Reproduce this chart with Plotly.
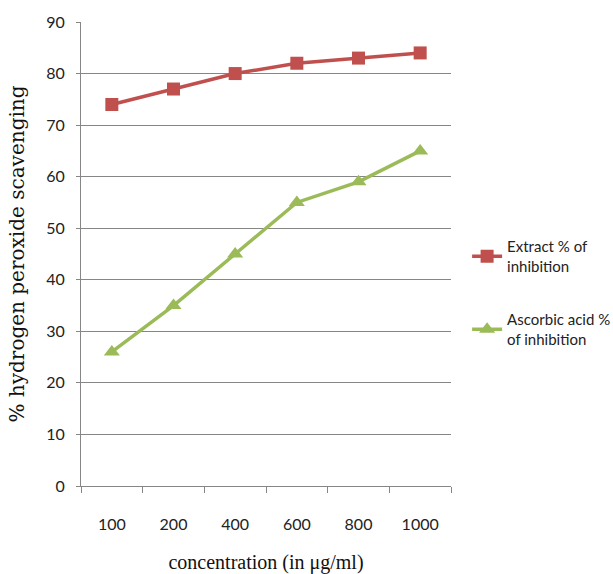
import plotly.graph_objects as go

categories = ["100", "200", "400", "600", "800", "1000"]
extract = [74, 77, 80, 82, 83, 84]
ascorbic = [26, 35, 45, 55, 59, 65]
series_names = ["Extract % of<br>inhibition", "Ascorbic acid %<br>of inhibition"]
y_ticks = [0, 10, 20, 30, 40, 50, 60, 70, 80, 90]

narrow = "Lato, Liberation Sans Narrow, sans-serif"
serif = "Liberation Serif, Times New Roman, serif"
wide_serif = "DejaVu Serif, serif"

fig = go.Figure()
fig.add_trace(go.Scatter(
    x=categories, y=extract, name=series_names[0], mode="lines+markers",
    line=dict(color="#C0504D", width=3.5),
    marker=dict(symbol="square", size=13, color="#C0504D"),
    legendgroup="a"))
fig.add_trace(go.Scatter(
    x=categories, y=ascorbic, name=series_names[1], mode="lines+markers",
    line=dict(color="#9BBB59", width=3.5),
    marker=dict(symbol="triangle-up", size=14, color="#9BBB59"),
    legendgroup="b"))

fig.update_layout(
    width=613, height=574, autosize=False,
    margin=dict(l=81, r=162, t=22, b=88),
    paper_bgcolor="white", plot_bgcolor="white",
    font=dict(family=narrow, size=16, color="#222222"),
    legend=dict(xref="container", yref="container",
                x=0.762, y=0.599, xanchor="left", yanchor="top",
                tracegroupgap=31, font=dict(family=narrow, size=15, color="#222222"),
                itemwidth=30),
    xaxis=dict(
        type="category", range=[-0.5, 5.5], tickson="boundaries",
        ticks="outside", ticklen=6, tickcolor="#868686",
        showline=True, linecolor="#868686", linewidth=1,
        showgrid=False, ticklabelstandoff=24, automargin=False,
        title=dict(text="concentration (in μg/ml)", font=dict(family=serif, size=20, color="#111111"), standoff=22),
    ),
    yaxis=dict(
        range=[0, 90], tickvals=y_ticks, ticks="outside", ticklen=4, tickcolor="#868686",
        showline=True, linecolor="#868686", linewidth=1,
        showgrid=True, gridcolor="#868686", gridwidth=1, zeroline=False,
        ticklabelstandoff=8, automargin=False,
        title=dict(text="% hydrogen peroxide scavenging", font=dict(family=wide_serif, size=20, color="#111111"), standoff=16),
    ),
)

fig.write_html(
    "out.html",
    config={"displayModeBar": False, "responsive": False},
    default_width="613px", default_height="574px",
    post_script="document.body.style.margin='0';document.body.style.overflow='hidden';",
)
